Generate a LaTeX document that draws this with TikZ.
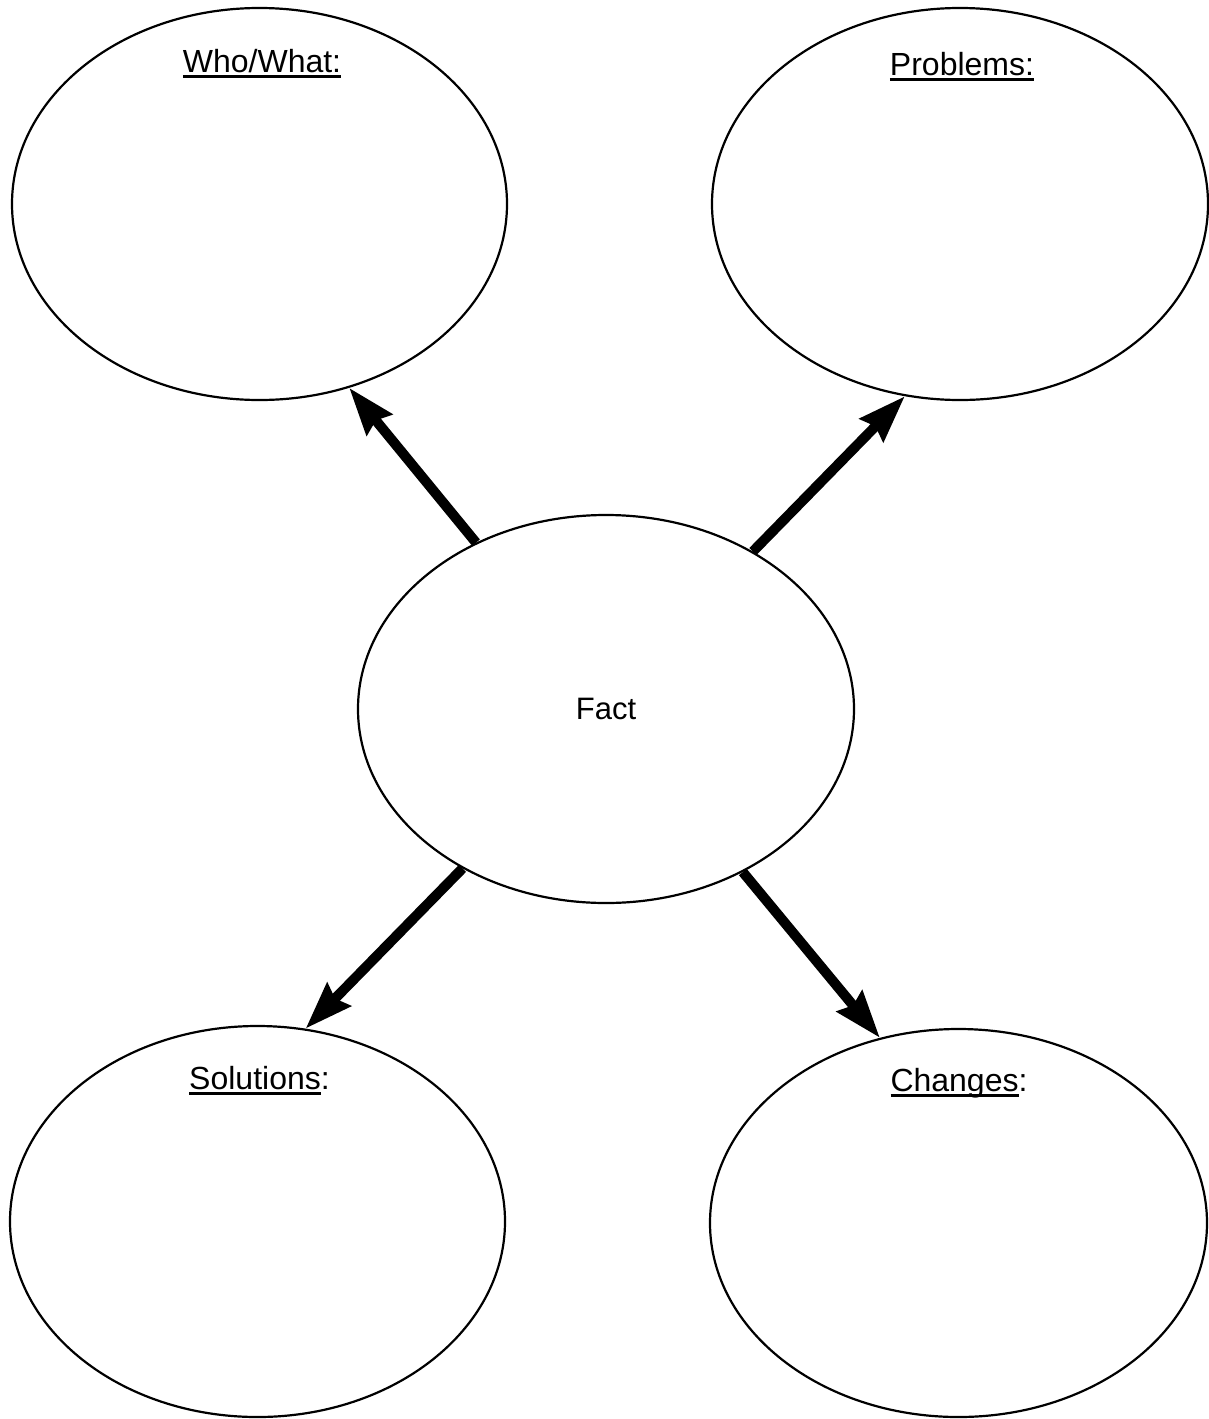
\documentclass[tikz,border=0pt]{standalone}
\usepackage{fontspec}
\setmainfont{Liberation Sans}
\usetikzlibrary{arrows.meta,shapes.geometric}

% underline drawn as a rule sized to the word
\newcommand\ulword[1]{\setbox0\hbox{#1}\rlap{\rule[-5.5pt]{\wd0}{2.2pt}}\box0}

\begin{document}
\begin{tikzpicture}[x=1pt,y=-1pt,
  bubble/.style={ellipse, draw, line width=2.2pt, inner sep=0pt},
  heading/.style={anchor=base, inner sep=0pt, font=\fontsize{32}{38}\selectfont},
  link/.style={line width=10pt, -{Stealth[length=47pt,width=32pt,inset=5pt]}}]
  \useasboundingbox (0,0) rectangle (1209,1419);

  % five bubbles
  \node[bubble, minimum width=495pt, minimum height=392pt] (who)  at (259.5,204) {};
  \node[bubble, minimum width=496pt, minimum height=392pt] (prob) at (960,204) {};
  \node[bubble, minimum width=496pt, minimum height=388pt, font=\fontsize{31}{37}\selectfont] (fact) at (606,709) {Fact};
  \node[bubble, minimum width=495pt, minimum height=391pt] (sol)  at (257.5,1221.5) {};
  \node[bubble, minimum width=497pt, minimum height=388pt] (chg)  at (958.5,1223) {};

  % headings
  \node[heading] (whoT)  at (262,72)   {\ulword{Who/What:}};
  \node[heading] (probT) at (962,75)   {\ulword{Problems:}};
  \node[heading] (solT)  at (259.5,1089) {\ulword{Solutions}:};
  \node[heading] (chgT)  at (959,1091) {\ulword{Changes}:};

  % arrows out of the centre bubble
  \draw[link] (fact.128) -- (who.296);
  \draw[link] (fact.47)  -- (prob.254);
  \draw[link] (fact.228) -- (sol.76);
  \draw[link] (fact.310) -- (chg.113);
\end{tikzpicture}
\end{document}
